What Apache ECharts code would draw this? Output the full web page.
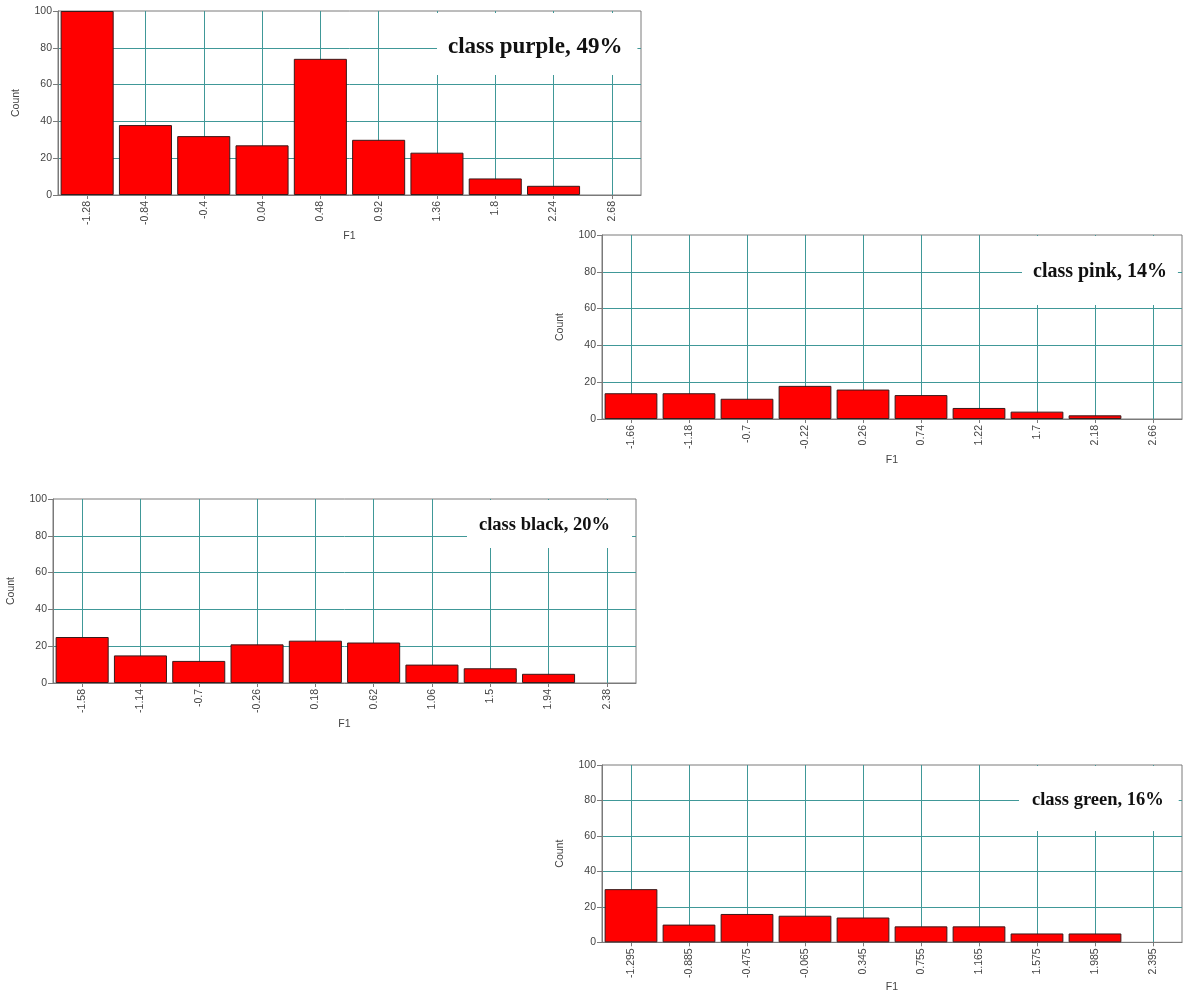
<!DOCTYPE html>
<html>
<head>
<meta charset="utf-8">
<script src="https://cdn.jsdelivr.net/npm/echarts@6/dist/echarts.min.js"></script>
<style>html,body{margin:0;padding:0;background:#fff;}#c{width:1184px;height:994px;}</style>
</head>
<body>
<div id="c"></div>
<script>
// ---- data ----
const purpleBins = ['-1.28','-0.84','-0.4','0.04','0.48','0.92','1.36','1.8','2.24','2.68'];
const purpleCounts = [100,38,32,27,74,30,23,9,5,0];
const pinkBins = ['-1.66','-1.18','-0.7','-0.22','0.26','0.74','1.22','1.7','2.18','2.66'];
const pinkCounts = [14,14,11,18,16,13,6,4,2,0];
const blackBins = ['-1.58','-1.14','-0.7','-0.26','0.18','0.62','1.06','1.5','1.94','2.38'];
const blackCounts = [25,15,12,21,23,22,10,8,5,0];
const greenBins = ['-1.295','-0.885','-0.475','-0.065','0.345','0.755','1.165','1.575','1.985','2.395'];
const greenCounts = [30,10,16,15,14,9,9,5,5,0];
const titles = ['class purple, 49%','class pink, 14%','class black, 20%','class green, 16%'];
const yTicks = [0,20,40,60,80,100];

// ---- layout / style ----
const panels = [
  {bins: purpleBins, counts: purpleCounts, grid: {left:58, top:11, width:583, height:184},
   title: {left:437, top:13, size:23, pad:[23,15,16,11]}},
  {bins: pinkBins, counts: pinkCounts, grid: {left:602, top:235, width:580, height:184},
   title: {left:1022, top:236, size:20, pad:[26,11,23,11]}},
  {bins: blackBins, counts: blackCounts, grid: {left:53, top:499, width:583, height:184},
   title: {left:467, top:500, size:18.5, pad:[15.5,22,13.5,12]}},
  {bins: greenBins, counts: greenCounts, grid: {left:602, top:765, width:580, height:178},
   title: {left:1019, top:766, size:18.5, pad:[24.5,15,21.5,13]}}
];
const gridColor = '#409898';
const axisColor = '#7a7a7a';
const textColor = '#444';
const font = 'Liberation Sans';

const option = {
  animation: false,
  backgroundColor: '#fff',
  title: [], grid: [], xAxis: [], yAxis: [], series: []
};
panels.forEach((p, i) => {
  option.title.push({
    text: titles[i], left: p.title.left, top: p.title.top,
    padding: p.title.pad, backgroundColor: '#fff', z: 6,
    textStyle: {fontFamily: 'Liberation Serif', fontWeight: 'bold', fontSize: p.title.size,
                lineHeight: Math.round(p.title.size), color: '#111'}
  });
  option.grid.push(Object.assign({show: true, borderColor: axisColor, borderWidth: 1,
                                  backgroundColor: 'transparent', containLabel: false}, p.grid));
  option.xAxis.push({
    type: 'category', gridIndex: i, data: p.bins, boundaryGap: true,
    name: 'F1', nameLocation: 'middle', nameGap: 36,
    nameTextStyle: {fontFamily: font, fontSize: 10.5, color: textColor},
    axisLine: {lineStyle: {color: axisColor, width: 1}},
    axisTick: {show: true, alignWithLabel: true, length: 4, lineStyle: {color: axisColor}},
    axisLabel: {rotate: 90, margin: 6, fontFamily: font, fontSize: 10.5, color: textColor, interval: 0},
    splitLine: {show: true, alignWithLabel: true, interval: 0, lineStyle: {color: gridColor, width: 1}}
  });
  option.yAxis.push({
    type: 'value', gridIndex: i, min: yTicks[0], max: yTicks[yTicks.length-1],
    interval: yTicks[1] - yTicks[0],
    name: 'Count', nameLocation: 'middle', nameGap: 36, nameRotate: 90,
    nameTextStyle: {fontFamily: font, fontSize: 10.5, color: textColor},
    axisLine: {show: true, lineStyle: {color: axisColor, width: 1}},
    axisTick: {show: true, length: 5, lineStyle: {color: axisColor}},
    axisLabel: {margin: 6, fontFamily: font, fontSize: 10.5, color: textColor},
    splitLine: {show: true, showMinLine: false, showMaxLine: false, lineStyle: {color: gridColor, width: 1}}
  });
  option.series.push({
    type: 'bar', xAxisIndex: i, yAxisIndex: i,
    data: p.counts.map(v => v === 0 ? null : v),
    barCategoryGap: '9%',
    itemStyle: {color: '#ff0000', borderColor: '#3a1a1a', borderWidth: 1},
    z: 2
  });
});
const chart = echarts.init(document.getElementById('c'), null, {renderer: 'canvas'});
chart.setOption(option);
</script>
</body>
</html>
